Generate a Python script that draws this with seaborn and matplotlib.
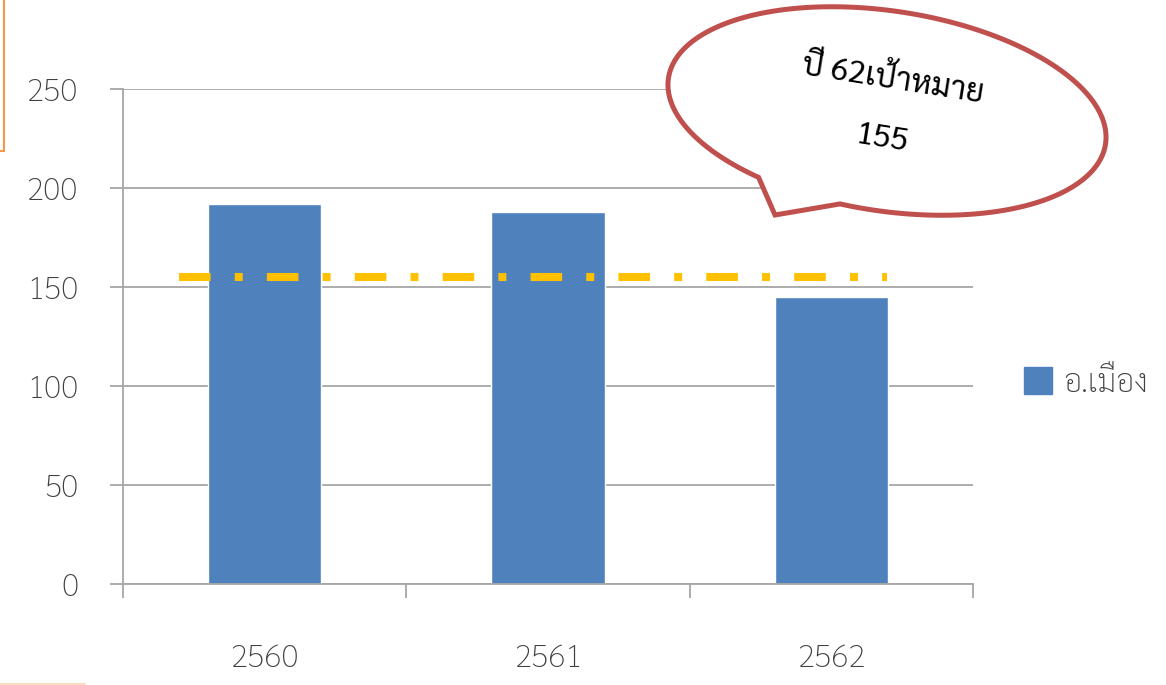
import numpy as np
import pandas as pd
import matplotlib
matplotlib.use("Agg")
import matplotlib.pyplot as plt
from matplotlib import font_manager
from matplotlib.path import Path
from matplotlib.patches import PathPatch, Patch
from matplotlib.lines import Line2D
import seaborn as sns

# ---- data ----
years = ["2560", "2561", "2562"]
counts = [192, 188, 145]
district = "อ.เมือง"
target = 155
y_ticks = [0, 50, 100, 150, 200, 250]
callout_lines = ["ปี 62เป้าหมาย", "155"]

# ---- fonts: a Thai-capable family first, DejaVu as fallback ----
available = {f.name for f in font_manager.fontManager.ttflist}
thai_font = next((n for n in ["Sarabun", "Noto Sans Thai Looped", "Noto Sans Thai",
                              "IBM Plex Sans Thai Looped", "Anuphan"] if n in available),
                 "DejaVu Sans")

sns.set_theme(style="white")
plt.rcParams["font.family"] = [thai_font, "DejaVu Sans"]

W, H = 1166, 685
fig = plt.figure(figsize=(W / 100, H / 100), dpi=100)
ax = fig.add_axes([123 / W, 1 - 584 / H, 850 / W, 495 / H])

df = pd.DataFrame({"year": years, "count": counts, "district": district})
bar_color = "#4F81BD"
sns.barplot(data=df, x="year", y="count", hue="district", palette=[bar_color],
            width=0.40, saturation=1, legend=False, ax=ax, zorder=2)

grid_c = "#A6A6A6"
ax.set_ylim(0, 250)
ax.set_yticks(y_ticks)
ax.set_xlim(-0.5, len(years) - 0.5)
ax.yaxis.grid(True, color=grid_c, lw=1.3, zorder=0)
ax.set_axisbelow(True)
ax.set_xlabel("")
ax.set_ylabel("")
for s in ["top", "right"]:
    ax.spines[s].set_visible(False)
for s in ["left", "bottom"]:
    ax.spines[s].set_color(grid_c)
    ax.spines[s].set_linewidth(1.3)

text_c = "#404040"
ax.tick_params(axis="y", which="major", length=9.4, width=1.3, color=grid_c,
               direction="out", pad=23, labelsize=23, labelcolor=text_c, left=True)
ax.set_xticks(np.arange(len(years)))
ax.set_xticklabels(years)
ax.set_xticks(np.arange(len(years) + 1) - 0.5, minor=True)
ax.tick_params(axis="x", which="major", length=0, pad=43, labelsize=23, labelcolor=text_c)
ax.tick_params(axis="x", which="minor", length=10, width=1.3, color=grid_c,
               direction="out", bottom=True)
for lab in ax.get_xticklabels() + ax.get_yticklabels():
    lab.set_fontweight("light")

# target line (dash-dot)
ax.plot([-0.302, 2.197], [target, target], color="#FFC000", lw=5.8,
        linestyle=(0, (3.92, 3.0, 0.99, 3.0)), solid_capstyle="butt",
        dash_capstyle="butt", zorder=3)

# legend
handle = Patch(facecolor=bar_color, edgecolor=bar_color)
leg = fig.legend([handle], [district], loc="center left",
                 bbox_to_anchor=(1024 / W, 1 - 383 / H), frameon=False,
                 borderpad=0, borderaxespad=0, handlelength=0.88, handleheight=0.88,
                 handletextpad=0.35, prop={"size": 23, "weight": "light"})
for t in leg.get_texts():
    t.set_color(text_c)

# speech-bubble callout (pixel geometry, y measured from the top)
cx, cy, a, b = 887.0, 111.0, 221.0, 100.0
th = np.deg2rad(8.6)


def ell(t):
    x = cx + a * np.cos(t) * np.cos(th) - b * np.sin(t) * np.sin(th)
    y = cy + a * np.cos(t) * np.sin(th) + b * np.sin(t) * np.cos(th)
    return x, y


def param_of(px, py):
    dx, dy = px - cx, py - cy
    xr = dx * np.cos(th) + dy * np.sin(th)
    yr = -dx * np.sin(th) + dy * np.cos(th)
    return np.arctan2(yr / b, xr / a)


t_start = param_of(767, 173)
t_end = param_of(842, 200) + 2 * np.pi
ts = np.linspace(t_start, t_end, 400)
xs, ys = ell(ts)
pts = list(zip(xs, ys)) + [(775, 215)]
pts.append(pts[0])
verts = [(x / W, 1 - y / H) for x, y in pts]
codes = [Path.MOVETO] + [Path.LINETO] * (len(verts) - 2) + [Path.CLOSEPOLY]
bubble = PathPatch(Path(verts, codes), facecolor="white", edgecolor="#C0504D",
                   lw=3.6, joinstyle="miter", transform=fig.transFigure, zorder=10)
fig.add_artist(bubble)
fig.text(893 / W, 1 - 80 / H, callout_lines[0], rotation=-9, ha="center", va="center",
         fontsize=23, fontweight="normal", color="black", zorder=11,
         rotation_mode="anchor")
fig.text(882 / W, 1 - 139 / H, callout_lines[1], rotation=-9, ha="center", va="center",
         fontsize=23, fontweight="normal", color="black", zorder=11,
         rotation_mode="anchor")

# slide frame edges
fig.add_artist(Line2D([3.5 / W, 3.5 / W], [1.0, 1 - 151 / H], color="#F79646", lw=1.5,
                      transform=fig.transFigure))
fig.add_artist(Line2D([0, 3.5 / W], [1 - 151 / H, 1 - 151 / H], color="#F79646", lw=1.5,
                      transform=fig.transFigure))
fig.add_artist(Line2D([0, 85 / W], [1 - 684 / H, 1 - 684 / H], color="#FBD5B5", lw=1.2,
                      transform=fig.transFigure))

fig.savefig("out.png", dpi=100)
